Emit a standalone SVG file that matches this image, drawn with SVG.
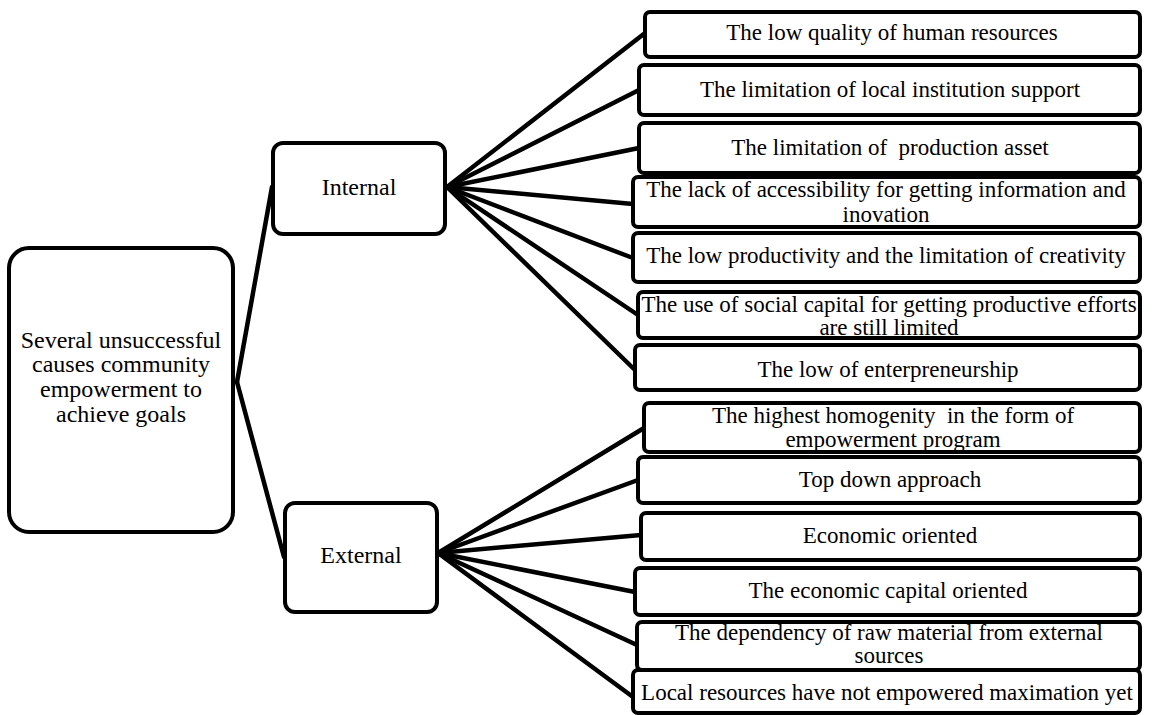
<svg xmlns="http://www.w3.org/2000/svg" width="1166" height="715" viewBox="0 0 1166 715">
<style>
.box{fill:#fff;stroke:#000;stroke-width:4}
.t{font-family:"Liberation Serif","Times New Roman",serif;font-size:23px;fill:#000;text-anchor:middle}
.tl{font-family:"Liberation Serif","Times New Roman",serif;font-size:24px;fill:#000;text-anchor:middle}
.c{stroke:#000;stroke-width:4.5;fill:none;stroke-linecap:round}
</style>
<rect width="1166" height="715" fill="#fff"/>
<g id="connectors">
<line class="c" x1="237" y1="382" x2="272" y2="187"/>
<line class="c" x1="237" y1="382" x2="284" y2="557"/>
<line class="c" x1="447" y1="187" x2="645" y2="33"/>
<line class="c" x1="447" y1="187" x2="639" y2="90"/>
<line class="c" x1="447" y1="187" x2="639" y2="148"/>
<line class="c" x1="447" y1="187" x2="633" y2="204"/>
<line class="c" x1="447" y1="187" x2="633" y2="258"/>
<line class="c" x1="447" y1="187" x2="638" y2="315"/>
<line class="c" x1="447" y1="187" x2="635" y2="370"/>
<line class="c" x1="438" y1="553" x2="644" y2="428"/>
<line class="c" x1="438" y1="553" x2="638" y2="480"/>
<line class="c" x1="438" y1="553" x2="641" y2="535"/>
<line class="c" x1="438" y1="553" x2="635" y2="592"/>
<line class="c" x1="438" y1="553" x2="637" y2="645"/>
<line class="c" x1="438" y1="553" x2="633" y2="697"/>
</g>
<g id="root">
<rect class="box" x="9" y="248" width="224" height="284" rx="20"/>
<text class="tl" x="121" y="348">Several unsuccessful</text>
<text class="tl" x="121" y="372">causes community</text>
<text class="tl" x="121" y="397">empowerment to</text>
<text class="tl" x="121" y="422">achieve goals</text>
</g>
<g id="internal">
<rect class="box" x="273" y="143" width="172" height="91" rx="10"/>
<text class="tl" x="359" y="195">Internal</text>
</g>
<g id="external">
<rect class="box" x="285" y="503" width="152" height="109" rx="10"/>
<text class="tl" x="361" y="563">External</text>
</g>
<g id="i1">
<rect class="box" x="645" y="12" width="495" height="45" rx="5"/>
<text class="t" x="892" y="40">The low quality of human resources</text>
</g>
<g id="i2">
<rect class="box" x="639" y="65" width="501" height="50" rx="5"/>
<text class="t" x="890" y="97">The limitation of local institution support</text>
</g>
<g id="i3">
<rect class="box" x="639" y="123" width="501" height="50" rx="5"/>
<text class="t" x="890" y="155" xml:space="preserve">The limitation of  production asset</text>
</g>
<g id="i4">
<rect class="box" x="633" y="177" width="507" height="50" rx="5"/>
<text class="t" x="886" y="197">The lack of accessibility for getting information and</text>
<text class="t" x="886" y="222">inovation</text>
</g>
<g id="i5">
<rect class="box" x="633" y="233" width="507" height="49" rx="5"/>
<text class="t" x="886" y="263">The low productivity and the limitation of creativity</text>
</g>
<g id="i6">
<rect class="box" x="638" y="292" width="502" height="46" rx="5"/>
<text class="t" x="889" y="312">The use of social capital for getting productive efforts</text>
<text class="t" x="889" y="335">are still limited</text>
</g>
<g id="i7">
<rect class="box" x="635" y="345" width="505" height="45" rx="5"/>
<text class="t" x="888" y="377">The low of enterpreneurship</text>
</g>
<g id="e1">
<rect class="box" x="644" y="403" width="496" height="49" rx="5"/>
<text class="t" x="893" y="423" xml:space="preserve">The highest homogenity  in the form of</text>
<text class="t" x="893" y="447">empowerment program</text>
</g>
<g id="e2">
<rect class="box" x="638" y="457" width="502" height="46" rx="5"/>
<text class="t" x="890" y="487">Top down approach</text>
</g>
<g id="e3">
<rect class="box" x="641" y="513" width="499" height="47" rx="5"/>
<text class="t" x="890" y="543">Economic oriented</text>
</g>
<g id="e4">
<rect class="box" x="635" y="568" width="505" height="47" rx="5"/>
<text class="t" x="888" y="598">The economic capital oriented</text>
</g>
<g id="e5">
<rect class="box" x="637" y="622" width="503" height="48" rx="5"/>
<text class="t" x="889" y="640">The dependency of raw material from external</text>
<text class="t" x="889" y="663">sources</text>
</g>
<g id="e6">
<rect class="box" x="633" y="670" width="507" height="43" rx="5"/>
<text class="t" x="887" y="700">Local resources have not empowered maximation yet</text>
</g>
</svg>
